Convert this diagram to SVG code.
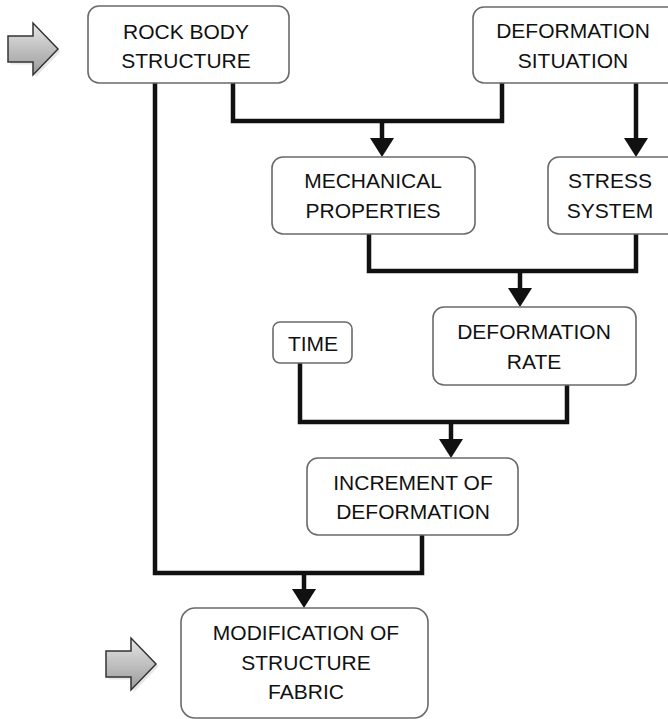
<svg xmlns="http://www.w3.org/2000/svg" width="668" height="719" viewBox="0 0 668 719">
<style>
.box{fill:#fff;stroke:#6a6a6a;stroke-width:1.6}
.t{font-family:"Liberation Sans",Arial,sans-serif;font-size:21px;fill:#111;text-anchor:middle}
.c{fill:none;stroke:#111;stroke-width:4.5;stroke-linejoin:miter}
.ah{fill:#111}
.ga{fill:url(#gg);stroke:#333;stroke-width:1.5;stroke-linejoin:miter}
</style>
<defs>
<linearGradient id="gg" x1="0" y1="0" x2="0" y2="1">
<stop offset="0" stop-color="#e6e6e6"/>
<stop offset="1" stop-color="#9a9a9a"/>
</linearGradient>
</defs>
<rect width="668" height="719" fill="#fff"/>
<g id="connectors">
<path class="c" d="M155 83 V573 H422 V535"/>
<path class="c" d="M233 83 V121 H502 V83"/>
<path class="c" d="M382 121 V140"/>
<path class="ah" d="M370 138 L394 138 L382 157 Z"/>
<path class="c" d="M636 83 V140"/>
<path class="ah" d="M624 138 L648 138 L636 157 Z"/>
<path class="c" d="M369 234 V271 H636 V234"/>
<path class="c" d="M520 271 V290"/>
<path class="ah" d="M508 288 L532 288 L520 307 Z"/>
<path class="c" d="M300 363 V422 H567 V385"/>
<path class="c" d="M451 422 V441"/>
<path class="ah" d="M439 439 L463 439 L451 458 Z"/>
<path class="c" d="M304 573 V591"/>
<path class="ah" d="M292 589 L316 589 L304 608 Z"/>
</g>
<g id="arrow-in-top">
<path d="M9 37 H34 V24 L59 50 L34 76 V63 H9 Z" transform="translate(1.5,1.5)" fill="#bbb" opacity="0.35"/>
<path class="ga" d="M8 36 H33 V23 L58 49 L33 75 V62 H8 Z"/>
</g>
<g id="arrow-in-bottom">
<path d="M107 652 H132 V639 L157 665 L132 691 V678 H107 Z" transform="translate(1.5,1.5)" fill="#bbb" opacity="0.35"/>
<path class="ga" d="M106 651 H131 V638 L156 664 L131 690 V677 H106 Z"/>
</g>
<g id="rock-body-structure">
<rect class="box" x="88" y="6" width="201" height="77" rx="11"/>
<text class="t" x="186" y="39">ROCK BODY</text>
<text class="t" x="186" y="68">STRUCTURE</text>
</g>
<g id="deformation-situation">
<rect class="box" x="473" y="7" width="205" height="76" rx="11"/>
<text class="t" x="573" y="38">DEFORMATION</text>
<text class="t" x="573" y="68">SITUATION</text>
</g>
<g id="mechanical-properties">
<rect class="box" x="272" y="157" width="203" height="77" rx="11"/>
<text class="t" x="373" y="188">MECHANICAL</text>
<text class="t" x="373" y="218">PROPERTIES</text>
</g>
<g id="stress-system">
<rect class="box" x="548" y="157" width="130" height="77" rx="11"/>
<text class="t" x="610" y="188">STRESS</text>
<text class="t" x="610" y="218">SYSTEM</text>
</g>
<g id="time">
<rect class="box" x="273" y="322" width="79" height="41" rx="7"/>
<text class="t" x="313" y="351">TIME</text>
</g>
<g id="deformation-rate">
<rect class="box" x="433" y="307" width="203" height="78" rx="11"/>
<text class="t" x="534" y="339">DEFORMATION</text>
<text class="t" x="534" y="369">RATE</text>
</g>
<g id="increment-of-deformation">
<rect class="box" x="307" y="458" width="211" height="77" rx="11"/>
<text class="t" x="413" y="490">INCREMENT OF</text>
<text class="t" x="413" y="519">DEFORMATION</text>
</g>
<g id="modification-of-structure-fabric">
<rect class="box" x="181" y="608" width="247" height="110" rx="14"/>
<text class="t" x="306" y="640">MODIFICATION OF</text>
<text class="t" x="306" y="670">STRUCTURE</text>
<text class="t" x="306" y="699">FABRIC</text>
</g>
</svg>
